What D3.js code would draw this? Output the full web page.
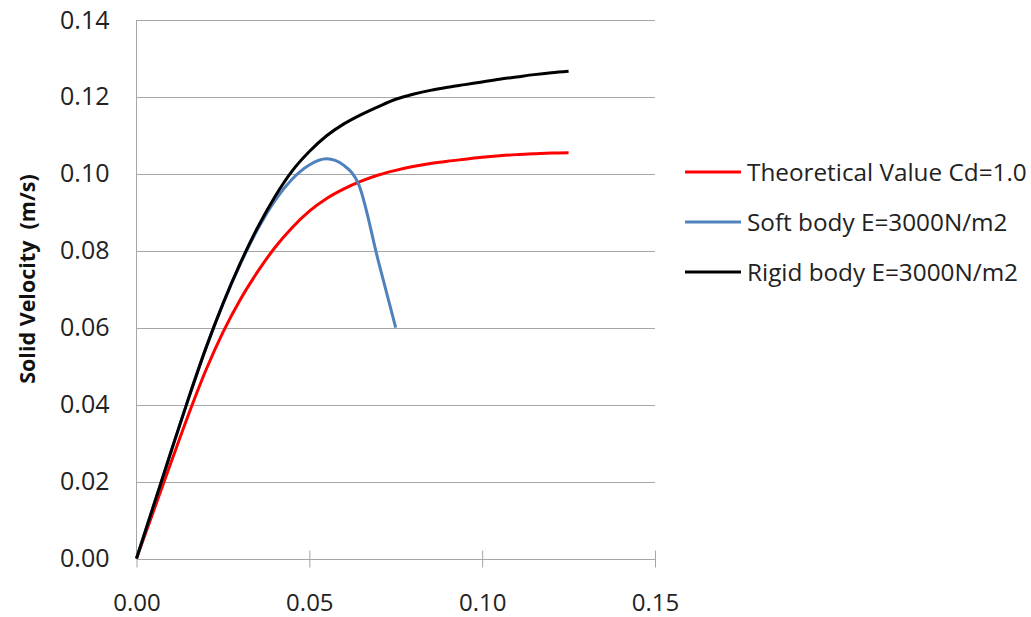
<!DOCTYPE html>
<html>
<head>
<meta charset="utf-8">
<script src="https://cdn.jsdelivr.net/npm/d3@7"></script>
<style>
  html, body { margin: 0; padding: 0; background: #fff; }
  svg { display: block; font-family: "Open Sans", sans-serif; }
</style>
</head>
<body>
<div id="plot-container"></div>
<script>
// Series data
const redX = [0, 0.005, 0.01, 0.015, 0.02, 0.025, 0.03, 0.035, 0.04, 0.045, 0.05, 0.055, 0.06, 0.065,
    0.07, 0.075, 0.08, 0.085, 0.09, 0.095, 0.10, 0.105, 0.11, 0.115, 0.12, 0.125];
const redY = [0, 0.0125, 0.0250, 0.0373, 0.0488, 0.0588, 0.0673, 0.0745, 0.0808, 0.0860, 0.0903, 0.0936,
    0.0961, 0.0981, 0.0997, 0.1009, 0.1019, 0.1027, 0.1033, 0.1038, 0.1043, 0.1047, 0.1050, 0.1052, 0.1054, 0.1055];

const blueX = [0, 0.005, 0.01, 0.015, 0.02, 0.025, 0.03, 0.035, 0.04, 0.045, 0.05, 0.055, 0.06, 0.0643, 0.07, 0.075];
const blueY = [0, 0.0139, 0.0278, 0.0415, 0.0545, 0.0662, 0.0765, 0.0855, 0.0930, 0.0986, 0.1023, 0.1039,
    0.1022, 0.0972, 0.0772, 0.0600];

const blackX = [0, 0.005, 0.01, 0.015, 0.02, 0.025, 0.03, 0.035, 0.04, 0.045, 0.05, 0.055, 0.06, 0.065,
    0.07, 0.075, 0.08, 0.085, 0.09, 0.095, 0.10, 0.105, 0.11, 0.115, 0.12, 0.125];
const blackY = [0, 0.0139, 0.0278, 0.0415, 0.0545, 0.0662, 0.0767, 0.0860, 0.0940, 0.1007, 0.1058, 0.1099,
    0.1130, 0.1154, 0.1175, 0.1194, 0.1207, 0.1217, 0.1225, 0.1232, 0.1239, 0.1246, 0.1252, 0.1258, 0.1263, 0.1267];

const seriesNames = ["Theoretical Value Cd=1.0", "Soft body E=3000N/m2", "Rigid body E=3000N/m2"];
const seriesColors = ["#ff0000", "#4f81bd", "#000000"];

const xTicks = [0, 0.05, 0.10, 0.15];
const yTicks = [0, 0.02, 0.04, 0.06, 0.08, 0.10, 0.12, 0.14];

// Chart dimensions
const width = 1031;
const height = 617;
const plotLeft = 136.5;
const plotRight = 655;
const plotTop = 20;
const plotBottom = 558.5;
const gridColor = "#a6a6a6";

const x = d3.scaleLinear().domain([0, 0.15]).range([plotLeft, plotRight]);
const y = d3.scaleLinear().domain([0, 0.14]).range([plotBottom, plotTop]);

const svg = d3.select("#plot-container").append("svg")
    .attr("width", width)
    .attr("height", height);

// Horizontal gridlines
svg.append("g")
    .selectAll("line")
    .data(yTicks)
    .join("line")
    .attr("x1", plotLeft)
    .attr("x2", plotRight)
    .attr("y1", d => Math.round(y(d)) + 0.5)
    .attr("y2", d => Math.round(y(d)) + 0.5)
    .attr("stroke", gridColor)
    .attr("stroke-width", 1);

// Left axis line
svg.append("line")
    .attr("x1", plotLeft).attr("x2", plotLeft)
    .attr("y1", plotTop).attr("y2", plotBottom)
    .attr("stroke", gridColor);

// Y axis labels
svg.append("g")
    .attr("transform", `translate(${plotLeft},0)`)
    .call(d3.axisLeft(y).tickValues(yTicks).tickFormat(d3.format(".2f")).tickSize(0).tickPadding(27))
    .call(g => g.select(".domain").remove())
    .call(g => g.selectAll("text")
        .attr("font-family", "Open Sans")
        .attr("font-size", 25)
        .attr("fill", "#222"));

// X axis with cross ticks
svg.append("g")
    .attr("transform", `translate(0,${plotBottom})`)
    .call(d3.axisBottom(x).tickValues(xTicks).tickFormat(d3.format(".2f")).tickSize(9).tickPadding(26))
    .call(g => g.select(".domain").remove())
    .call(g => g.selectAll("line").attr("y1", -8).attr("stroke", gridColor))
    .call(g => g.selectAll("text")
        .attr("font-family", "Open Sans")
        .attr("font-size", 24)
        .attr("fill", "#222"));

// Y axis title
svg.append("text")
    .attr("transform", "translate(35,279) rotate(-90)")
    .attr("text-anchor", "middle")
    .attr("font-family", "Open Sans")
    .attr("font-weight", "bold")
    .attr("font-size", 21.5)
    .attr("fill", "#111")
    .attr("xml:space", "preserve")
    .text("Solid Velocity  (m/s)");

// Lines, drawn in legend order so black sits on top
const line = d3.line()
    .x(d => x(d[0]))
    .y(d => y(d[1]))
    .curve(d3.curveMonotoneX);

const series = [
    d3.zip(redX, redY),
    d3.zip(blueX, blueY),
    d3.zip(blackX, blackY)
];

svg.append("g")
    .selectAll("path")
    .data(series)
    .join("path")
    .attr("d", line)
    .attr("fill", "none")
    .attr("stroke", (d, i) => seriesColors[i])
    .attr("stroke-width", 3)
    .attr("stroke-linejoin", "round");

// Legend
const legend = svg.append("g")
    .attr("transform", "translate(685,172)");

const item = legend.selectAll("g")
    .data(seriesNames)
    .join("g")
    .attr("transform", (d, i) => `translate(0,${i * 50})`);

item.append("line")
    .attr("x1", 0).attr("x2", 56)
    .attr("stroke", (d, i) => seriesColors[i])
    .attr("stroke-width", 3);

item.append("text")
    .attr("x", 62)
    .attr("dy", "0.35em")
    .attr("font-family", "Open Sans")
    .attr("font-size", 24.3)
    .attr("fill", "#222")
    .text(d => d);
</script>
</body>
</html>
